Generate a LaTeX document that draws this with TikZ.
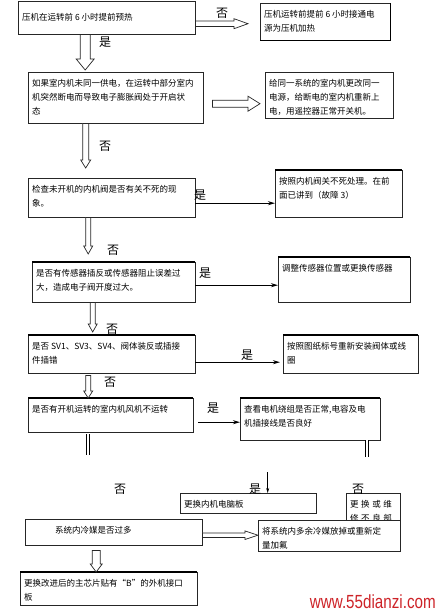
\documentclass[tikz,border=0pt]{standalone}
\usepackage{fontspec}
\usepackage{graphicx}
\setmainfont{Noto Sans CJK SC}
\newfontfamily\webfont{Liberation Sans}
\usetikzlibrary{arrows.meta, calc}
\definecolor{markred}{RGB}{205,35,40}
\tikzset{
  stepbox/.style={draw=black!85, thin, fill=white, inner sep=4pt, anchor=north west, font=\fontsize{8.5}{14}\selectfont},
  heavy/.style={line width=1.5pt},
  hollowline/.style={draw=black!85, fill=white, line width=0.7pt, line join=miter},
  link/.style={line width=1.4pt, -{Stealth[length=7pt, width=4pt]}},
  thinlink/.style={line width=1pt, -{Stealth[length=5pt, width=3pt]}},
  stub/.style={double, double distance=2.5pt, line width=0.8pt},
  answer/.style={font=\fontsize{12}{12}\selectfont, inner sep=0pt}
}
% texto de caja: [posicion]{ancho}{alto}{texto}
\newcommand{\boxtxt}[4][t]{\parbox[c][#3][#1]{#2}{\strut #4}}
% flecha hueca: {cola}{punta}{medio ancho}{medio ancho cabeza}{largo cabeza}
\newcommand{\hollowlink}[5]{%
  \coordinate (hb) at ($(#2)!#5!(#1)$);
  \draw[hollowline] ($(#1)!#3!90:(#2)$) -- ($(hb)!#3!90:(#2)$) -- ($(hb)!#4!90:(#2)$) -- (#2)
    -- ($(hb)!#4!-90:(#2)$) -- ($(hb)!#3!-90:(#2)$) -- ($(#1)!#3!-90:(#2)$) -- cycle;
}

\begin{document}
\begin{tikzpicture}[x=1pt, y=-1pt]
\useasboundingbox (0,0) rectangle (438,613);

% Cajas de pregunta (columna izquierda)
\node[stepbox] (b1) at (18,1) {\boxtxt[c]{169pt}{25pt}{压机在运转前 6 小时提前预热}};
\node[stepbox] (b3) at (28,72) {\boxtxt{167pt}{43pt}{如果室内机未同一供电，在运转中部分室内\\机突然断电而导致电子膨胀阀处于开启状\\态}};
\node[stepbox] (b5) at (28,178) {\boxtxt{159pt}{31pt}{检查未开机的内机阀是否有关不死的现\\象。}};
\node[stepbox] (b7) at (32,262) {\boxtxt{155pt}{32pt}{是否有传感器插反或传感器阻止误差过\\大，造成电子阀开度过大。}};
\node[stepbox] (b9) at (28,335) {\boxtxt{159pt}{30pt}{是否 SV1、SV3、SV4、阀体装反或插接\\件插错}};
\node[stepbox] (b11) at (28,398) {\boxtxt{157pt}{26pt}{是否有开机运转的室内机风机不运转}};

% Cajas de accion (columna derecha)
\node[stepbox] (b2) at (260,3) {\boxtxt{122pt}{29pt}{压机运转前提前 6 小时接通电\\源为压机加热}};
\node[stepbox] (b4) at (265,72) {\boxtxt{120pt}{38pt}{给同一系统的室内机更改同一\\电源，给断电的室内机重新上\\电，用遥控器正常开关机。}};
\node[stepbox] (b6) at (275,170) {\boxtxt{119pt}{39pt}{按照内机阀关不死处理。在前\\面已讲到（故障 3）}};
\node[stepbox] (b8) at (278,257) {\boxtxt{124pt}{37pt}{调整传感器位置或更换传感器}};
\node[stepbox] (b10) at (283,335) {\boxtxt{127pt}{30pt}{按照图纸标号重新安装阀体或线\\圈}};
\node[stepbox] (b12) at (240,398) {\boxtxt{132pt}{34pt}{查看电机绕组是否正常,电容及电\\机插接线是否良好}};

% Parte inferior
\node[stepbox] (b13) at (180,493) {\boxtxt{128pt}{12pt}{更换内机电脑板}};
\node[stepbox] (b14) at (346,493) {\boxtxt{46pt}{24pt}{\addfontfeatures{LetterSpace=30}更换或维\\修不良部}};
\node[stepbox] (b15) at (25,519) {\boxtxt{169pt}{18pt}{\hspace*{26pt}系统内冷媒是否过多}};
\node[stepbox] (b16) at (258,520) {\boxtxt{134pt}{23pt}{将系统内多余冷媒放掉或重新定\\量加氟}};
\node[stepbox] (b17) at (20,572) {\boxtxt{169pt}{25pt}{更换改进后的主芯片贴有“B”的外机接口\\板}};

% Bordes gruesos
\foreach \b in {b6,b7,b8,b9,b10,b11,b12,b17}
  \draw[heavy] (\b.north west) -- (\b.north east);
\draw[heavy] (b2.north east) -- (b2.south east) -- (b2.south west);

% Flechas huecas
\coordinate (t1) at ([yshift=-6pt]b1.east);
\coordinate (h1) at ([xshift=-12pt]t1 -| b2.west);
\hollowlink{t1}{h1}{2.7pt}{5pt}{14pt}
\coordinate (t2) at ([xshift=-21.5pt]b1.south);
\coordinate (h2) at ([yshift=2pt]t2 |- b3.north);
\hollowlink{t2}{h2}{5pt}{9pt}{11pt}
\coordinate (t3) at ([xshift=9pt, yshift=-6pt]b3.east);
\coordinate (h3) at ([xshift=-5pt]t3 -| b4.west);
\hollowlink{t3}{h3}{3.5pt}{7.5pt}{12pt}
\coordinate (t15) at ([yshift=-3pt]b15.east);
\coordinate (h15) at (t15 -| b16.west);
\hollowlink{t15}{h15}{2.3pt}{4.3pt}{13pt}
\coordinate (t16) at ([xshift=-17.5pt, yshift=-5pt]b15.south);
\coordinate (h16) at (t16 |- b17.north);
\hollowlink{t16}{h16}{4pt}{6pt}{8pt}

% Flechas "否" estrechas
\coordinate (t4) at ([xshift=-30pt]b3.south);
\coordinate (h4) at ([yshift=10pt]t4 |- b5.north);
\hollowlink{t4}{h4}{3pt}{5pt}{8pt}
\coordinate (t6) at ([xshift=-23.5pt]b5.south);
\coordinate (h6) at ([yshift=8pt]t6 |- b7.north);
\hollowlink{t6}{h6}{2.5pt}{4.5pt}{8pt}
\coordinate (t8) at ([xshift=-21pt]b7.south);
\coordinate (h8) at ([yshift=3pt]t8 |- b9.north);
\hollowlink{t8}{h8}{2.5pt}{4.5pt}{8pt}
\coordinate (t10) at ([xshift=-23.5pt, yshift=-2pt]b9.south);
\coordinate (h10) at (t10 |- b11.north);
\hollowlink{t10}{h10}{2.5pt}{4.5pt}{7pt}

% Flechas "是"
\coordinate (t5) at ([yshift=-5.5pt]b5.east);
\draw[link] (t5) -- (t5 -| b6.west);
\coordinate (t7) at ([yshift=-3pt]b7.east);
\draw[link] (t7) -- (t7 -| b8.west);
\coordinate (t9) at ([yshift=-8pt]b9.east);
\draw[link] (t9) -- ([xshift=-3pt]t9 -| b10.west);
\coordinate (t11) at ([xshift=5pt, yshift=-7pt]b11.east);
\draw[link] (t11) -- (t11 -| b12.west);

% Tramos sueltos y flecha a b13
\coordinate (s11) at ([xshift=-22.5pt, yshift=-2pt]b11.south);
\draw[stub] (s11) -- ++(0,21);
\coordinate (s12) at ([xshift=57pt]b12.south);
\draw[stub] (s12) -- ++(0,17);
\coordinate (t13) at ([xshift=19.5pt, yshift=21pt]b13.north);
\draw[thinlink] (t13) -- (t13 |- b13.north);

% Etiquetas
\node[answer] (l1) at (222,13) {否};
\node[answer] (l2) at (105,42) {是};
\node[answer] (l3) at (105,146) {否};
\node[answer] (l4) at (200,195) {是};
\node[answer] (l5) at (113,250) {否};
\node[answer] (l6) at (205,273) {是};
\node[answer] (l7) at (112,329) {否};
\node[answer] (l8) at (247,355) {是};
\node[answer] (l9) at (110,382) {否};
\node[answer] (l10) at (213,408) {是};
\node[answer] (l11) at (120,489) {否};
\node[answer] (l12) at (255,489) {是};
\node[answer] (l13) at (358,489) {否};

% Marca de agua
\node[anchor=base east, inner sep=0pt, text=markred, font=\webfont\fontsize{19}{19}\selectfont] (mark) at (436,608) {\scalebox{0.8}[1]{www.55dianzi.com}};

\end{tikzpicture}
\end{document}
